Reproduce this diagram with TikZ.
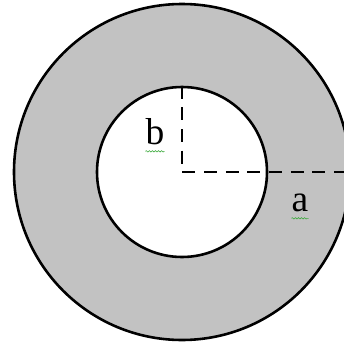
\documentclass[tikz,border=0pt]{standalone}
\usepackage{fontspec}
\setmainfont{Liberation Serif}
\usepackage{xcolor}
\usepackage{tikz}
\usetikzlibrary{positioning,decorations.pathmorphing}
\definecolor{ringDark}  {gray}{0.00}
\definecolor{ringFill}  {gray}{0.76}
\definecolor{ringSpell} {RGB}{60,170,60}

\begin{document}
\begin{tikzpicture}[
      disc/.style={circle, draw=ringDark, line width=2.2pt, inner sep=0pt},
      ring/.style={disc, fill=ringFill, minimum size=10.08cm},
      hole/.style={disc, fill=white, minimum size=5.1cm},
      gauge/.style={draw=ringDark, line width=2.4pt, dash pattern=on 11pt off 7.5pt},
      lbl/.style={anchor=base, inner sep=0pt, font=\fontsize{32}{36}\selectfont},
      spell/.style={draw=ringSpell, line width=0.5pt, decorate,
                    decoration={snake, amplitude=0.6pt, segment length=2.6pt}}]

    \useasboundingbox (-5.46,-5.28) rectangle (4.83,5.16);

    \node[ring] (outer) at (0,0) {};
    \node[hole] (inner) at (0,0) {};

    \draw[gauge] (inner.north) |- (outer.east);

    \node[lbl] (lb) at (-0.81,0.84) {b};
    \node[lbl] (la) at (3.54,-1.17) {a};

    \draw[spell] ([yshift=-0.22cm]lb.base west) -- ([yshift=-0.22cm]lb.base east);
    \draw[spell] ([yshift=-0.22cm]la.base west) -- ([yshift=-0.22cm]la.base east);
  \end{tikzpicture}
\end{document}
